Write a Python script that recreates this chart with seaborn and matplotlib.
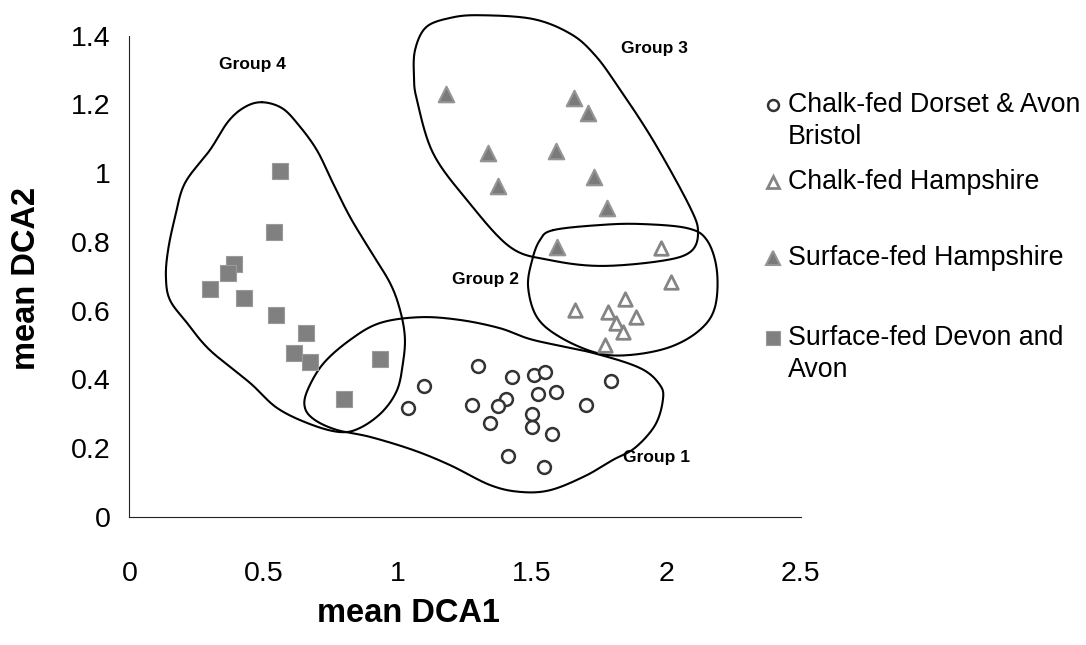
import numpy as np
import matplotlib
matplotlib.use("Agg")
import matplotlib.pyplot as plt
from matplotlib.lines import Line2D
import seaborn as sns

# --- site scores on the first two DCA axes ---
chalk_dorset_x = [1.300, 1.097, 1.039, 1.426, 1.506, 1.547, 1.793, 1.523, 1.590, 1.403,
                  1.373, 1.276, 1.702, 1.501, 1.344, 1.499, 1.575, 1.411, 1.545]
chalk_dorset_y = [0.439, 0.382, 0.318, 0.408, 0.414, 0.421, 0.395, 0.357, 0.363, 0.344,
                  0.324, 0.326, 0.326, 0.300, 0.274, 0.261, 0.241, 0.177, 0.145]

chalk_hants_x = [1.979, 2.016, 1.846, 1.660, 1.784, 1.887, 1.812, 1.837, 1.771]
chalk_hants_y = [0.781, 0.684, 0.633, 0.602, 0.597, 0.582, 0.563, 0.539, 0.500]

surface_hants_x = [1.180, 1.657, 1.709, 1.337, 1.590, 1.731, 1.374, 1.778, 1.591]
surface_hants_y = [1.230, 1.217, 1.174, 1.059, 1.064, 0.988, 0.963, 0.897, 0.786]

surface_devon_x = [0.561, 0.537, 0.390, 0.366, 0.299, 0.426, 0.545, 0.658, 0.613, 0.673,
                   0.933, 0.799]
surface_devon_y = [1.007, 0.829, 0.735, 0.708, 0.663, 0.637, 0.586, 0.535, 0.478, 0.451,
                   0.459, 0.344]

x_ticks = [0, 0.5, 1, 1.5, 2, 2.5]
x_tick_labels = ["0", "0.5", "1", "1.5", "2", "2.5"]
y_ticks = [0, 0.2, 0.4, 0.6, 0.8, 1.0, 1.2, 1.4]
y_tick_labels = ["0", "0.2", "0.4", "0.6", "0.8", "1", "1.2", "1.4"]

group_names = ["Group 1", "Group 2", "Group 3", "Group 4"]

# hand-drawn outlines around the groups (control points, data units)
outline_g4 = [(0.494, 1.206), (0.568, 1.189), (0.628, 1.142), (0.698, 1.067), (0.758, 0.971),
              (0.822, 0.872), (0.896, 0.776), (0.971, 0.680), (1.008, 0.602), (1.026, 0.523),
              (1.019, 0.448), (0.997, 0.369), (0.941, 0.305), (0.859, 0.259), (0.784, 0.247),
              (0.673, 0.270), (0.550, 0.317), (0.449, 0.390), (0.300, 0.485), (0.215, 0.564),
              (0.151, 0.631), (0.136, 0.698), (0.144, 0.776), (0.170, 0.872), (0.207, 0.971),
              (0.300, 1.067), (0.368, 1.150), (0.430, 1.192)]
outline_g1 = [(0.654, 0.317), (0.662, 0.366), (0.721, 0.445), (0.822, 0.515), (0.933, 0.564),
              (1.082, 0.581), (1.231, 0.573), (1.380, 0.549), (1.503, 0.515), (1.727, 0.477),
              (1.902, 0.433), (1.976, 0.384), (1.987, 0.340), (1.958, 0.267), (1.883, 0.201),
              (1.801, 0.166), (1.697, 0.119), (1.567, 0.078), (1.455, 0.073), (1.343, 0.093),
              (1.194, 0.151), (1.056, 0.195), (0.896, 0.233), (0.773, 0.253), (0.691, 0.282)]
outline_g2 = [(1.578, 0.834), (1.753, 0.849), (1.902, 0.852), (2.077, 0.840), (2.151, 0.805),
              (2.188, 0.718), (2.181, 0.610), (2.125, 0.544), (2.013, 0.494), (1.864, 0.471),
              (1.741, 0.477), (1.604, 0.523), (1.518, 0.581), (1.485, 0.669), (1.500, 0.747),
              (1.529, 0.805)]
outline_g3 = [(1.060, 1.279), (1.064, 1.358), (1.105, 1.424), (1.194, 1.451), (1.302, 1.459),
              (1.503, 1.448), (1.645, 1.404), (1.734, 1.343), (1.816, 1.256), (1.950, 1.096),
              (2.088, 0.901), (2.118, 0.826), (2.088, 0.770), (1.976, 0.744), (1.753, 0.730),
              (1.567, 0.747), (1.418, 0.785), (1.257, 0.922), (1.131, 1.058), (1.071, 1.212)]


def closed_spline(points, n=40):
    """Closed Catmull-Rom curve through the given points."""
    p = np.asarray(points, dtype=float)
    m = len(p)
    t = np.linspace(0, 1, n, endpoint=False)[:, None]
    segs = []
    for i in range(m):
        p0, p1, p2, p3 = p[(i - 1) % m], p[i], p[(i + 1) % m], p[(i + 2) % m]
        segs.append(0.5 * (2 * p1 + (-p0 + p2) * t
                           + (2 * p0 - 5 * p1 + 4 * p2 - p3) * t ** 2
                           + (-p0 + 3 * p1 - 3 * p2 + p3) * t ** 3))
    out = np.vstack(segs)
    return np.vstack([out, out[:1]])


sns.set_style("white")
plt.rcParams["font.family"] = ["Liberation Sans", "DejaVu Sans"]
plt.rcParams["text.color"] = "black"
plt.rcParams["axes.labelcolor"] = "black"

W, H = 1086, 645
fig = plt.figure(figsize=(W / 100, H / 100), dpi=100)
ax = fig.add_axes([129.4 / W, (H - 517) / H, 671.2 / W, (517 - 35.5) / H])

# outlines first so markers sit on top
for pts in (outline_g4, outline_g1, outline_g2, outline_g3):
    c = closed_spline(pts)
    ax.plot(c[:, 0], c[:, 1], color="black", lw=1.5, solid_capstyle="round",
            zorder=1, clip_on=False)

circle_style = dict(marker="o", s=85, facecolor="white", edgecolor="#333333", linewidth=1.8)
open_tri_style = dict(marker="^", s=95, facecolor="white", edgecolor="#858585", linewidth=2.0)
fill_tri_style = dict(marker="^", s=125, facecolor="#7a7a7a", edgecolor="#959595", linewidth=1.5)
square_style = dict(marker="s", s=130, facecolor="#808080", edgecolor="#9a9a9a", linewidth=0.8)

sns.scatterplot(x=chalk_dorset_x, y=chalk_dorset_y, ax=ax, zorder=3, **circle_style)
sns.scatterplot(x=chalk_hants_x, y=chalk_hants_y, ax=ax, zorder=3, **open_tri_style)
sns.scatterplot(x=surface_hants_x, y=surface_hants_y, ax=ax, zorder=3, **fill_tri_style)
sns.scatterplot(x=surface_devon_x, y=surface_devon_y, ax=ax, zorder=3, **square_style)

# group labels
label_pos = {"Group 1": (1.965, 0.174), "Group 2": (1.328, 0.692),
             "Group 3": (1.957, 1.363), "Group 4": (0.457, 1.317)}
for g in group_names:
    gx, gy = label_pos[g]
    ax.text(gx, gy, g, fontsize=12.5, fontweight="bold", ha="center", va="center",
            color="black", zorder=4)

ax.set_xlim(0, 2.5)
ax.set_ylim(0, 1.4)
ax.set_xticks(x_ticks)
ax.set_xticklabels(x_tick_labels)
ax.set_yticks(y_ticks)
ax.set_yticklabels(y_tick_labels)
ax.tick_params(axis="both", labelsize=20.5, colors="#222222", labelcolor="black",
               direction="out", width=0.8)
ax.tick_params(axis="y", length=5.5, pad=8)
ax.tick_params(axis="x", length=6, pad=26)
for side in ("top", "right"):
    ax.spines[side].set_visible(False)
for side in ("left", "bottom"):
    ax.spines[side].set_color("#222222")
    ax.spines[side].set_linewidth(0.8)
ax.patch.set_alpha(0)

ax.set_xlabel("mean DCA1", fontsize=23.5, fontweight="bold", color="black")
ax.set_ylabel("mean DCA2", fontsize=23.5, fontweight="bold", color="black")
ax.xaxis.set_label_coords((408 - 129.4) / 671.2, (517 - 614) / 481.5)
ax.xaxis.label.set_va("center")
ax.yaxis.set_label_coords((27 - 129.4) / 671.2, 0.496)
ax.yaxis.label.set_va("center")

# legend, laid out in figure pixels
legend_font = 19.3
legend_rows = [
    ("Chalk-fed Dorset & Avon", "Bristol", 105, circle_style),
    ("Chalk-fed Hampshire", None, 182, open_tri_style),
    ("Surface-fed Hampshire", None, 258, fill_tri_style),
    ("Surface-fed Devon and", "Avon", 338, square_style),
]
for first, second, py, st in legend_rows:
    ms = np.sqrt(st["s"]) * 0.85
    fig.add_artist(Line2D([773 / W], [1 - py / H], transform=fig.transFigure,
                          marker=st["marker"], markersize=ms, linestyle="none",
                          markerfacecolor=st["facecolor"], markeredgecolor=st["edgecolor"],
                          markeredgewidth=st["linewidth"]))
    fig.text(788 / W, 1 - py / H, first, fontsize=legend_font, va="center", ha="left",
             color="black")
    if second:
        fig.text(788 / W, 1 - (py + 32) / H, second, fontsize=legend_font,
                 va="center", ha="left", color="black")

fig.savefig("out.png", dpi=100, facecolor="white")
